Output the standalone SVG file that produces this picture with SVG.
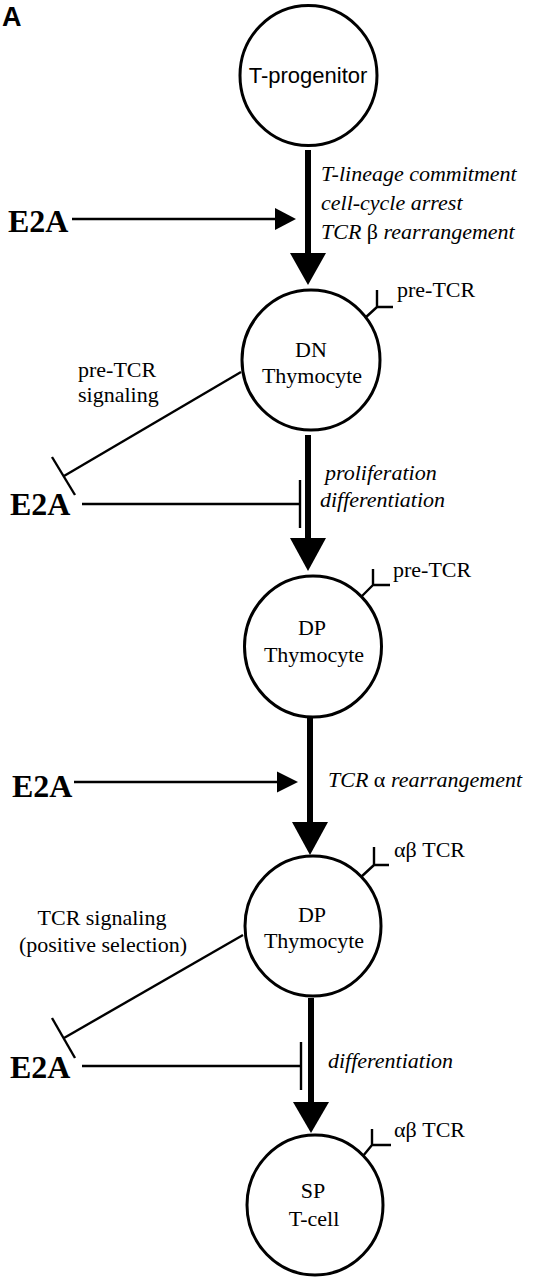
<svg xmlns="http://www.w3.org/2000/svg" width="534" height="1280" viewBox="0 0 534 1280">
<style>
.cell{fill:#fff;stroke:#000;stroke-width:3}
.thin{stroke:#000;stroke-width:2.4;fill:none}
.thick{stroke:#000;stroke-width:6;fill:none}
.rec{stroke:#000;stroke-width:2.4;fill:none}
.head{fill:#000;stroke:none}
.serif{font-family:"Liberation Serif","Times New Roman",serif;font-size:22px;fill:#000}
.it{font-style:italic}
.up{font-style:normal}
.e2a{font-family:"Liberation Serif","Times New Roman",serif;font-size:32px;font-weight:bold;fill:#000}
.sans{font-family:"Liberation Sans",Arial,sans-serif;fill:#000}
.mid{text-anchor:middle}
</style>
<rect width="534" height="1280" fill="#fff"/>
<text class="sans" x="2" y="26" font-size="27" font-weight="bold">A</text>

<g id="connectors">
  <!-- main thick arrows -->
  <line class="thick" x1="308" y1="150" x2="308" y2="256"/>
  <polygon class="head" points="290,253 326,253 308,285"/>
  <line class="thick" x1="308" y1="435" x2="308" y2="541"/>
  <polygon class="head" points="290,538 326,538 308,571"/>
  <line class="thick" x1="310" y1="718" x2="310" y2="825"/>
  <polygon class="head" points="292,822 328,822 310,855"/>
  <line class="thick" x1="311" y1="998" x2="311" y2="1105"/>
  <polygon class="head" points="293,1102 329,1102 311,1133"/>
  <!-- E2A activation arrows -->
  <line class="thin" x1="72" y1="219" x2="277" y2="219"/>
  <polygon class="head" points="275,208 296,219 275,230"/>
  <line class="thin" x1="74" y1="782" x2="279" y2="782"/>
  <polygon class="head" points="277,771.5 298,782 277,792.5"/>
  <!-- E2A inhibition bars -->
  <line class="thin" x1="82" y1="504" x2="300" y2="504"/>
  <line class="thin" x1="300" y1="480" x2="300" y2="528"/>
  <line class="thin" x1="82" y1="1066" x2="301" y2="1066"/>
  <line class="thin" x1="301" y1="1042" x2="301" y2="1090"/>
  <!-- signaling inhibition of E2A -->
  <line class="thin" x1="241" y1="372" x2="64" y2="476"/>
  <line class="thin" x1="52" y1="457" x2="75" y2="495"/>
  <line class="thin" x1="243" y1="935" x2="64" y2="1038"/>
  <line class="thin" x1="52" y1="1018" x2="75" y2="1058"/>
</g>

<g id="n-tprog">
  <ellipse class="cell" cx="308.5" cy="75.5" rx="68.5" ry="70"/>
  <text class="sans mid" x="308" y="83" font-size="22">T-progenitor</text>
</g>

<g id="label-step1">
  <text class="serif it" x="321" y="181">T-lineage commitment</text>
  <text class="serif it" x="321" y="210">cell-cycle arrest</text>
  <text class="serif it" x="321" y="239">TCR <tspan class="up">β</tspan> rearrangement</text>
</g>
<g id="e2a-1"><text class="e2a" x="8" y="232">E2A</text></g>

<g id="n-dn">
  <ellipse class="cell" cx="311" cy="360" rx="69" ry="70"/>
  <text class="serif mid" x="311" y="357">DN</text>
  <text class="serif mid" x="312" y="383">Thymocyte</text>
  <path class="rec" d="M365,318 L377,307 M377,290 L377,307 L393,307"/>
  <text class="serif" x="397" y="297">pre-TCR</text>
</g>

<g id="label-pretcr-signaling">
  <text class="serif" x="78" y="377">pre-TCR</text>
  <text class="serif" x="78" y="402">signaling</text>
</g>
<g id="e2a-2"><text class="e2a" x="10" y="515">E2A</text></g>
<g id="label-step2">
  <text class="serif it" x="325" y="480">proliferation</text>
  <text class="serif it" x="320" y="507">differentiation</text>
</g>

<g id="n-dp1">
  <ellipse class="cell" cx="313" cy="646.5" rx="68.5" ry="70.5"/>
  <text class="serif mid" x="312" y="635">DP</text>
  <text class="serif mid" x="314" y="662">Thymocyte</text>
  <path class="rec" d="M361,597 L373,585 M373,569 L373,585 L390,585"/>
  <text class="serif" x="393" y="577">pre-TCR</text>
</g>

<g id="e2a-3"><text class="e2a" x="12" y="797">E2A</text></g>
<g id="label-step3">
  <text class="serif it" x="328" y="787">TCR <tspan class="up">α</tspan> rearrangement</text>
</g>

<g id="n-dp2">
  <ellipse class="cell" cx="313" cy="926" rx="68" ry="70"/>
  <text class="serif mid" x="312" y="922">DP</text>
  <text class="serif mid" x="314" y="948">Thymocyte</text>
  <path class="rec" d="M361,877 L374,865 M374,847 L374,865 L389,865"/>
  <text class="serif" x="394" y="857">αβ TCR</text>
</g>

<g id="label-tcr-signaling">
  <text class="serif mid" x="102" y="925">TCR signaling</text>
  <text class="serif mid" x="103" y="952">(positive selection)</text>
</g>
<g id="e2a-4"><text class="e2a" x="10" y="1078">E2A</text></g>
<g id="label-step4">
  <text class="serif it" x="328" y="1068">differentiation</text>
</g>

<g id="n-sp">
  <ellipse class="cell" cx="315" cy="1205" rx="68" ry="70"/>
  <text class="serif mid" x="313" y="1198">SP</text>
  <text class="serif mid" x="314" y="1226">T-cell</text>
  <path class="rec" d="M363,1156 L372,1145 M372,1129 L372,1145 L391,1145"/>
  <text class="serif" x="394" y="1137">αβ TCR</text>
</g>
</svg>
